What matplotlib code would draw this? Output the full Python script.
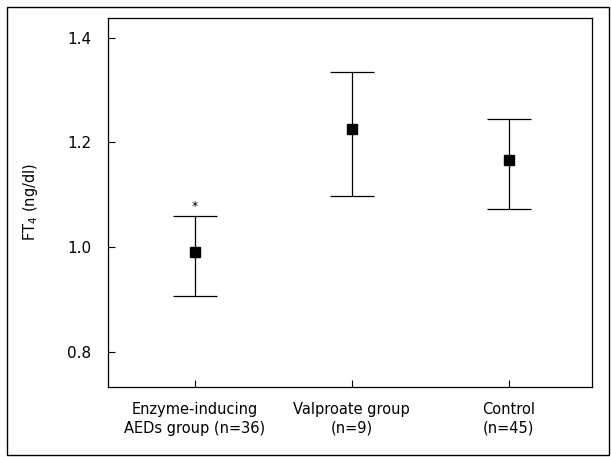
import matplotlib
matplotlib.use("Agg")
import matplotlib.pyplot as plt
from matplotlib.patches import Rectangle

# values
groups = ["Enzyme-inducing\nAEDs group (n=36)", "Valproate group\n(n=9)", "Control\n(n=45)"]
means = [0.990, 1.225, 1.167]
upper = [1.060, 1.335, 1.245]
lower = [0.907, 1.097, 1.073]
yticks = [0.8, 1.0, 1.2, 1.4]
star_y = 1.078

plt.rcParams["font.family"] = "DejaVu Sans"
plt.rcParams["mathtext.default"] = "regular"

fig = plt.figure(figsize=(6.11, 4.57), dpi=100)
ax = fig.add_axes([0.177, 0.153, 0.792, 0.808])

x = list(range(len(groups)))
err_lo = [m - l for m, l in zip(means, lower)]
err_hi = [u - m for m, u in zip(means, upper)]
ax.errorbar(x, means, yerr=[err_lo, err_hi], fmt="s", color="black",
            markersize=7, elinewidth=0.9, capsize=16, capthick=0.9)
ax.text(x[0], star_y, "*", ha="center", va="center", fontsize=9)

ax.set_xlim(-0.55, 2.53)
ax.set_ylim(0.733, 1.438)
ax.set_xticks(x)
ax.set_xticklabels(groups, fontsize=10.5, linespacing=1.3)
ax.set_yticks(yticks)
ax.set_yticklabels([f"{v:.1f}" for v in yticks], fontsize=11)
ax.tick_params(direction="in", length=5, width=0.8)
ax.tick_params(axis="x", pad=11)
ax.tick_params(axis="y", pad=12)
ax.set_ylabel("FT$_4$ (ng/dl)", fontsize=10.5, labelpad=20)
for s in ax.spines.values():
    s.set_linewidth(0.9)

# outer frame round the figure
fig.patches.append(Rectangle((7 / 611, 2 / 457), 602 / 611, 448 / 457,
                             transform=fig.transFigure, fill=False,
                             edgecolor="black", linewidth=1.0))

fig.savefig("out.png", dpi=100)
